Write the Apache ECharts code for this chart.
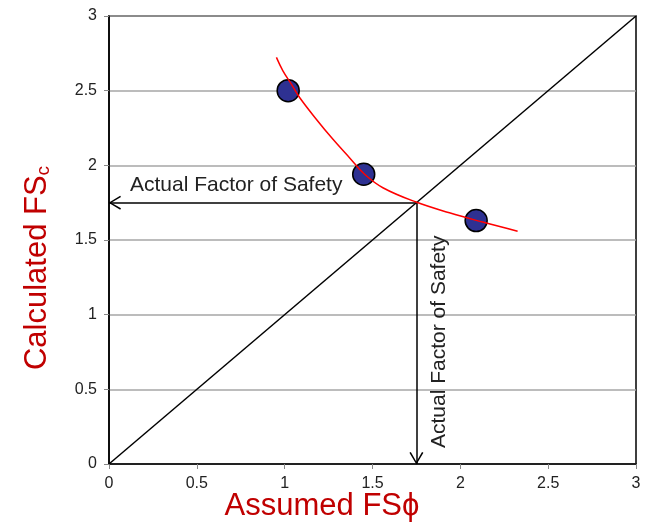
<!DOCTYPE html>
<html>
<head>
<meta charset="utf-8">
<script src="https://cdn.jsdelivr.net/npm/echarts@6/dist/echarts.min.js"></script>
<style>
html,body{margin:0;padding:0;background:#fff;}
#chart{width:645px;height:522px;}
</style>
</head>
<body>
<div id="chart"></div>
<script>
// Data
const xTicks = [0, 0.5, 1, 1.5, 2, 2.5, 3];
const yTicks = [0, 0.5, 1, 1.5, 2, 2.5, 3];
const assumedFS = [1.02, 1.45, 2.09];
const calculatedFS = [2.50, 1.94, 1.63];
const curveX = [0.953, 0.990, 1.038, 1.085, 1.180, 1.275, 1.369, 1.455, 1.559, 1.748, 1.938, 2.127, 2.326];
const curveY = [2.723, 2.633, 2.544, 2.454, 2.309, 2.174, 2.051, 1.940, 1.850, 1.754, 1.682, 1.620, 1.559];
const equalityX = [0, 3];
const equalityY = [0, 3];
const actualFS = 1.75;
const annotationText = 'Actual Factor of Safety';

const FONT = '"Liberation Sans", Arial, sans-serif';
const chart = echarts.init(document.getElementById('chart'));
// open chevron whose tip sits at the centre of the symbol box
const arrowPath = 'path://M5,0 L5.01,0 L5,0.01 Z M5,10 L0,20 L1,20.7 L5,12.3 L9,20.7 L10,20 Z';

const option = {
  animation: false,
  backgroundColor: '#fff',
  grid: {left: 109, right: 9, top: 16, bottom: 58, show: true, borderColor: '#000', borderWidth: 1.5, backgroundColor: 'transparent'},
  xAxis: {
    type: 'value', min: xTicks[0], max: xTicks[xTicks.length-1], interval: 0.5,
    axisLine: {show: true, lineStyle: {color: '#000', width: 1.5}},
    axisTick: {show: true, length: 5, lineStyle: {color: '#888', width: 1}},
    splitLine: {show: false},
    axisLabel: {color: '#222', fontSize: 16, fontFamily: FONT, margin: 12,
      formatter: v => String(v)}
  },
  yAxis: {
    type: 'value', min: yTicks[0], max: yTicks[yTicks.length-1], interval: 0.5,
    axisLine: {show: true, lineStyle: {color: '#000', width: 1.5}},
    axisTick: {show: true, length: 5, lineStyle: {color: '#888', width: 1}},
    splitLine: {show: true, lineStyle: {color: '#a6a6a6', width: 1.5}},
    axisLabel: {color: '#222', fontSize: 16, fontFamily: FONT, margin: 12,
      formatter: v => String(v)}
  },
  series: [
    {
      type: 'line', name: 'equality', data: equalityX.map((x,i)=>[x, equalityY[i]]),
      showSymbol: false, symbol: 'none', lineStyle: {color: '#000', width: 1.5}, z: 3,
      markLine: {
        silent: true, animation: false,
        lineStyle: {color: '#000', width: 1.5, type: 'solid'},
        label: {show: false},
        symbolSize: [14, 24],
        data: [
          [{coord: [actualFS, actualFS], symbol: 'none'}, {coord: [0, actualFS], symbol: arrowPath}],
          [{coord: [actualFS, actualFS], symbol: 'none'}, {coord: [actualFS, 0], symbol: arrowPath}]
        ]
      }
    },
    {
      type: 'line', name: 'trend', data: curveX.map((x,i)=>[x, curveY[i]]),
      smooth: 0.4, showSymbol: false, symbol: 'none', lineStyle: {color: '#ff0000', width: 1.5}, z: 5
    },
    {
      type: 'scatter', name: 'points', data: assumedFS.map((x,i)=>[x, calculatedFS[i]]),
      symbol: 'circle', symbolSize: 22,
      itemStyle: {color: '#2e3192', borderColor: '#000', borderWidth: 1.5, opacity: 1}, z: 4
    }
  ]
};
chart.setOption(option);

function drawText() {
  const pH = chart.convertToPixel({gridIndex: 0}, [0, actualFS]);
  const pV = chart.convertToPixel({gridIndex: 0}, [actualFS, 0]);
  chart.setOption({
    graphic: [
      {type: 'text', left: pH[0] + 21, top: pH[1] - 28, z: 10,
        style: {text: annotationText, font: '21px ' + FONT, fill: '#222'}},
      {type: 'text', x: pV[0] + 12, y: pV[1] - 16, rotation: Math.PI/2, z: 10,
        style: {text: annotationText, font: '21px ' + FONT, fill: '#222', textAlign: 'left', textVerticalAlign: 'top'}},
      {type: 'text', x: 322, y: 506, z: 10,
        style: {text: 'Assumed FSϕ', font: '31px ' + FONT, fill: '#c00000', textAlign: 'center', textVerticalAlign: 'middle'}},
      {type: 'text', x: 37, y: 268, rotation: Math.PI/2, z: 10,
        style: {
          text: '{m|Calculated FS}{s|c}',
          textAlign: 'center', textVerticalAlign: 'middle',
          rich: {
            m: {font: '31px ' + FONT, fill: '#c00000', color: '#c00000'},
            s: {font: '19px ' + FONT, fill: '#c00000', color: '#c00000', verticalAlign: 'bottom', padding: [14, 0, 0, 0]}
          }
        }}
    ]
  });
}
drawText();
</script>
</body>
</html>
